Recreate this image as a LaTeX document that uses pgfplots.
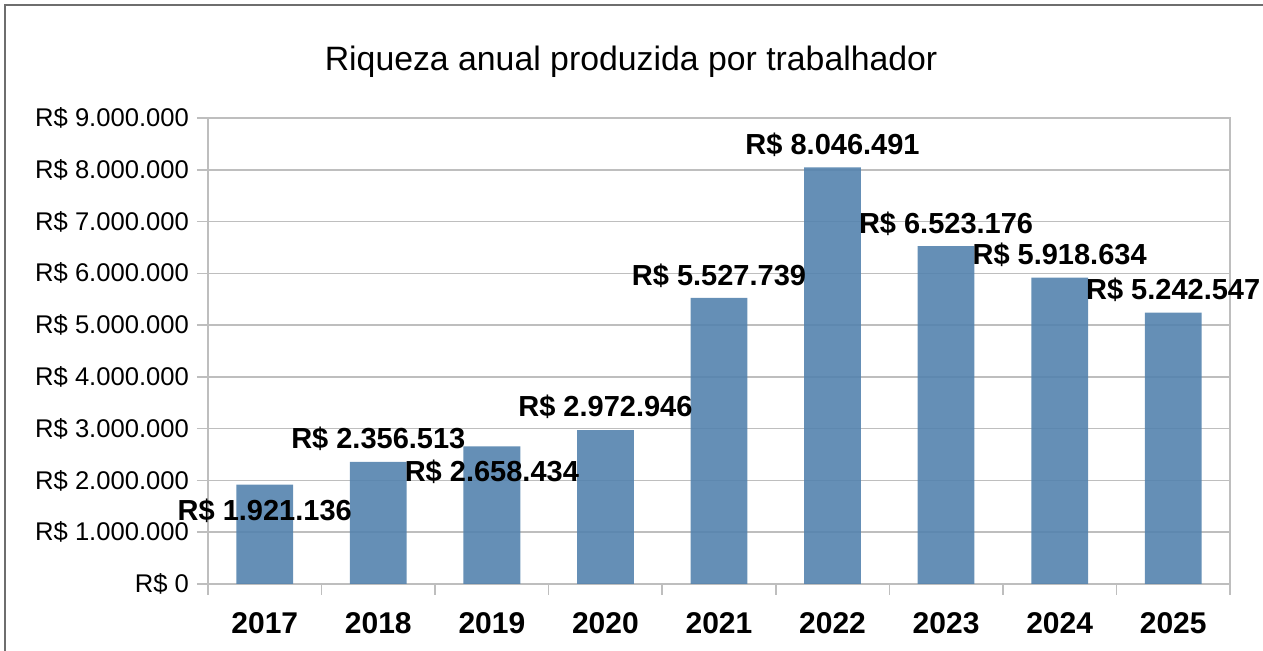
\documentclass[border=0pt]{standalone}
\usepackage{pgfplots}
\pgfplotsset{compat=1.18}
\usepackage{fontspec}
\setmainfont{Liberation Sans}
\definecolor{barblue}{RGB}{84,131,174}
\definecolor{gridgray}{RGB}{190,190,190}
\definecolor{framegray}{RGB}{110,110,110}

\pgfplotstableread{
x y
0 1921136
1 2356513
2 2658434
3 2972946
4 5527739
5 8046491
6 6523176
7 5918634
8 5242547
}\bars

\pgfplotstableread{
x y label
0 1410000 1.921.136
1 2800000 2.356.513
2 2160000 2.658.434
3 3420000 2.972.946
4 5960000 5.527.739
5 8480000 8.046.491
6 6950000 6.523.176
7 6360000 5.918.634
8 5680000 5.242.547
}\labels

\begin{document}
\begin{tikzpicture}
\begin{axis}[
  scale only axis, width=511pt, height=233pt,
  xmin=-0.5, xmax=8.5, ymin=0, ymax=9000000,
  scaled y ticks=false,
  axis line style={gridgray, line width=0.8pt},
  tick style={gridgray, line width=0.8pt},
  tick align=outside,
  xtick pos=lower, ytick pos=left,
  xtick={0,...,8},
  xticklabels={2017,2018,2019,2020,2021,2022,2023,2024,2025},
  major x tick style={draw=none},
  minor xtick={-0.5,0.5,...,8.5},
  minor tick length=5.5pt,
  major tick length=5.5pt,
  ytick={0,1000000,...,9000000},
  yticklabels={R\$ 0,R\$ 1.000.000,R\$ 2.000.000,R\$ 3.000.000,R\$ 4.000.000,R\$ 5.000.000,R\$ 6.000.000,R\$ 7.000.000,R\$ 8.000.000,R\$ 9.000.000},
  ymajorgrids, grid style={gridgray, line width=0.8pt},
  xticklabel style={font=\fontsize{15}{17}\selectfont\bfseries, yshift=-5pt},
  yticklabel style={font=\fontsize{12.8}{14}\selectfont, xshift=-0.5pt},
  title={Riqueza anual produzida por trabalhador},
  title style={font=\fontsize{16.9}{19}\selectfont, at={(0.414,1)}, anchor=base, yshift=18pt},
  clip=false,
]
\addplot[ybar, bar width=0.5, fill=barblue, fill opacity=0.9, draw=none] table[x=x,y=y] {\bars};
\addplot[only marks, mark=none, point meta=explicit symbolic,
  nodes near coords={R\$ \pgfplotspointmeta},
  nodes near coords align=center,
  every node near coord/.append style={font=\fontsize{14.5}{16}\selectfont\bfseries, inner sep=0pt, anchor=center}]
  table[x=x,y=y,meta=label] {\labels};
\end{axis}
\path[use as bounding box] (-104pt,-33.5pt) rectangle (527.5pt,292pt);
\draw[framegray, line width=1pt] (-101.5pt,-33.5pt) -- (-101.5pt,289.5pt) -- (527.5pt,289.5pt);
\end{tikzpicture}
\end{document}
